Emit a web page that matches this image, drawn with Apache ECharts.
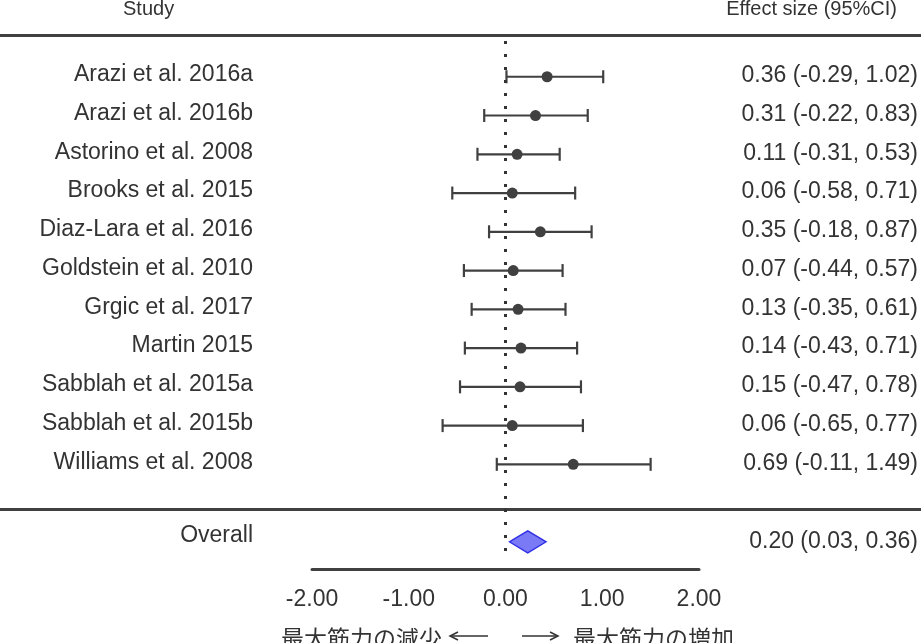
<!DOCTYPE html>
<html lang="ja">
<head>
    <meta charset="UTF-8">
    <title>Forest plot</title>
    <style>
        html, body { margin: 0; padding: 0; background: #fff; }
        #main { width: 921px; height: 643px; }
    </style>
</head>
<body>
<div id="main"></div>
<script src="https://cdn.jsdelivr.net/npm/echarts@6/dist/echarts.min.js"></script>
<script>
    // 研究名
    var studies = ['Arazi et al. 2016a', 'Arazi et al. 2016b', 'Astorino et al. 2008', 'Brooks et al. 2015',
        'Diaz-Lara et al. 2016', 'Goldstein et al. 2010', 'Grgic et al. 2017', 'Martin 2015',
        'Sabblah et al. 2015a', 'Sabblah et al. 2015b', 'Williams et al. 2008'];
    // 図上の点推定値と信頼区間
    var estimates = [0.43, 0.31, 0.12, 0.07, 0.36, 0.08, 0.13, 0.16, 0.15, 0.07, 0.70];
    var lower = [0.01, -0.22, -0.29, -0.55, -0.17, -0.43, -0.35, -0.42, -0.47, -0.65, -0.09];
    var upper = [1.01, 0.85, 0.56, 0.72, 0.89, 0.59, 0.62, 0.74, 0.78, 0.80, 1.50];
    // 右列の表示テキスト
    var ciText = ['0.36 (-0.29, 1.02)', '0.31 (-0.22, 0.83)', '0.11 (-0.31, 0.53)', '0.06 (-0.58, 0.71)',
        '0.35 (-0.18, 0.87)', '0.07 (-0.44, 0.57)', '0.13 (-0.35, 0.61)', '0.14 (-0.43, 0.71)',
        '0.15 (-0.47, 0.78)', '0.06 (-0.65, 0.77)', '0.69 (-0.11, 1.49)'];
    // 全体の効果量
    var overallLabel = 'Overall';
    var overallEst = 0.23, overallLo = 0.04, overallHi = 0.42;
    var overallText = '0.20 (0.03, 0.36)';
    var overallRow = 12;
    var xTicks = [-2, -1, 0, 1, 2];

    var font = 'Liberation Sans';
    var textColor = '#333333';
    var lineColor = '#404040';

    var studyData = [];
    for (var i = 0; i < studies.length; i++) {
        studyData.push([estimates[i], i, lower[i], upper[i]]);
    }

    function renderStudy(params, api) {
        var y = api.value(1);
        var pE = api.coord([api.value(0), y]);
        var pL = api.coord([api.value(2), y]);
        var pH = api.coord([api.value(3), y]);
        var cap = 6.5;
        var st = { stroke: lineColor, lineWidth: 2.2 };
        return {
            type: 'group',
            children: [
                { type: 'line', shape: { x1: pL[0], y1: pL[1], x2: pH[0], y2: pH[1] }, style: st },
                { type: 'line', shape: { x1: pL[0], y1: pL[1] - cap, x2: pL[0], y2: pL[1] + cap }, style: st },
                { type: 'line', shape: { x1: pH[0], y1: pH[1] - cap, x2: pH[0], y2: pH[1] + cap }, style: st },
                { type: 'circle', shape: { cx: pE[0], cy: pE[1], r: 5.5 }, style: { fill: lineColor } },
                { type: 'text', x: 253, y: pE[1] - 2, style: { text: studies[params.dataIndex], font: '23px ' + font,
                        fill: textColor, align: 'right', verticalAlign: 'middle' } },
                { type: 'text', x: 918, y: pE[1] - 1, style: { text: ciText[params.dataIndex], font: '23px ' + font,
                        fill: textColor, align: 'right', verticalAlign: 'middle' } }
            ]
        };
    }

    function renderOverall(params, api) {
        var y = api.value(1);
        var pE = api.coord([api.value(0), y]);
        var pL = api.coord([api.value(2), y]);
        var pH = api.coord([api.value(3), y]);
        var h = 11;
        return {
            type: 'group',
            children: [
                { type: 'polygon', shape: { points: [[pL[0], pL[1]], [pE[0], pE[1] - h], [pH[0], pH[1]], [pE[0], pE[1] + h]] },
                    style: { fill: '#7a7af7', stroke: '#2f2fe6', lineWidth: 1.3 } },
                { type: 'text', x: 253, y: pE[1] - 6, style: { text: overallLabel, font: '23px ' + font,
                        fill: textColor, align: 'right', verticalAlign: 'middle' } },
                { type: 'text', x: 918, y: pE[1], style: { text: overallText, font: '23px ' + font,
                        fill: textColor, align: 'right', verticalAlign: 'middle' } }
            ]
        };
    }

    var chart = echarts.init(document.getElementById('main'));
    var option = {
        animation: false,
        textStyle: { fontFamily: font },
        grid: { left: 312, right: 222, top: 38, bottom: 74 },
        xAxis: {
            type: 'value', min: -2, max: 2, interval: 1,
            axisLine: { show: true, onZero: false, lineStyle: { color: lineColor, width: 3 } },
            axisTick: { show: false },
            splitLine: { show: false },
            axisLabel: {
                fontSize: 23, color: textColor, margin: 19, fontFamily: font,
                formatter: function (v) { return xTicks.indexOf(v) >= 0 ? v.toFixed(2) : ''; }
            }
        },
        yAxis: { type: 'value', min: -1, max: 12.7, inverse: true, show: false },
        series: [
            {
                type: 'custom', renderItem: renderStudy, data: studyData, clip: false,
                encode: { x: [0, 2, 3], y: 1 },
                markLine: {
                    silent: true, symbol: 'none', label: { show: false },
                    lineStyle: { color: '#333', width: 3, type: [3, 10] },
                    data: [[{ coord: [0, -0.92] }, { coord: [0, 12.45] }]]
                }
            },
            {
                type: 'custom', renderItem: renderOverall, clip: false,
                data: [[overallEst, overallRow, overallLo, overallHi]],
                encode: { x: [0, 2, 3], y: 1 }
            }
        ],
        graphic: [
            { type: 'text', left: 123, top: -1, style: { text: 'Study', font: '20px ' + font, fill: textColor } },
            { type: 'text', right: 24, top: -1, style: { text: 'Effect size (95%CI)', font: '20px ' + font, fill: textColor } },
            { type: 'line', shape: { x1: 0, y1: 35.5, x2: 921, y2: 35.5 }, style: { stroke: lineColor, lineWidth: 3 } },
            { type: 'line', shape: { x1: 0, y1: 509.5, x2: 921, y2: 509.5 }, style: { stroke: lineColor, lineWidth: 3 } },
            { type: 'text', x: 442, y: 638, style: { text: '最大筋力の減少', font: '23px "Noto Sans CJK JP"',
                    fill: textColor, align: 'right', verticalAlign: 'middle' } },
            { type: 'line', shape: { x1: 450, y1: 636, x2: 488, y2: 636 }, style: { stroke: '#333', lineWidth: 1.5 } },
            { type: 'polyline', shape: { points: [[458, 632], [450, 636], [458, 640]] }, style: { stroke: '#333', lineWidth: 1.5, fill: null } },
            { type: 'line', shape: { x1: 522, y1: 636, x2: 558, y2: 636 }, style: { stroke: '#333', lineWidth: 1.5 } },
            { type: 'polyline', shape: { points: [[550, 632], [558, 636], [550, 640]] }, style: { stroke: '#333', lineWidth: 1.5, fill: null } },
            { type: 'text', x: 573, y: 638, style: { text: '最大筋力の増加', font: '23px "Noto Sans CJK JP"',
                    fill: textColor, align: 'left', verticalAlign: 'middle' } }
        ]
    };
    chart.setOption(option);
</script>
</body>
</html>
